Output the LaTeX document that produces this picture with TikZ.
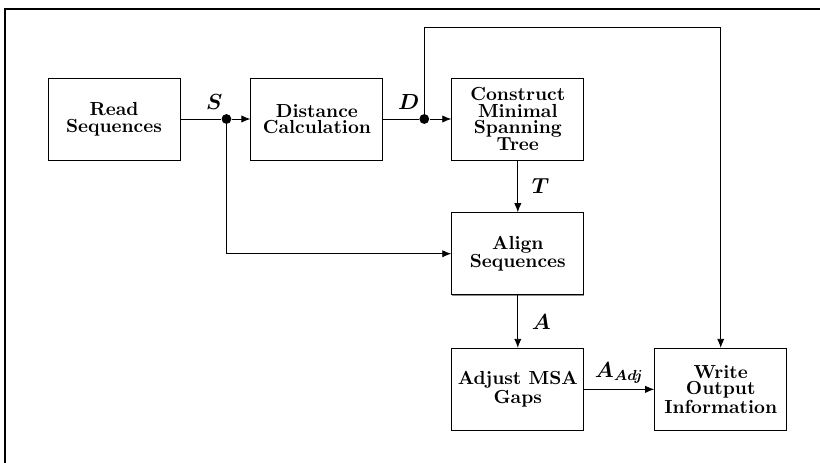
\documentclass[tikz,border=0pt]{standalone}
\usepackage{amsmath}
\usepackage{amssymb}
\usepackage{bm}
\usepackage{tikz}
\usetikzlibrary{positioning,arrows.meta,calc,shadows}

\begin{document}
\begin{tikzpicture}[
  font=\bfseries,
  node distance=28.5pt and 38.5pt,
  blk/.style={draw,line width=0.5pt,align=center,fill=white,
    minimum width=72.6pt,minimum height=45.1pt,inner sep=2pt,
    font=\bfseries\fontsize{10.4}{9.2}\selectfont,
    drop shadow={shadow xshift=0.2pt,shadow yshift=-0.6pt,fill=black!45,opacity=1}},
  arr/.style={line width=0.5pt,-{Latex[length=5pt,width=4pt]}},
  wire/.style={line width=0.5pt},
  lbl/.style={inner sep=1pt,font=\large},
  dot/.style={circle,fill=black,inner sep=0pt,minimum size=5.4pt},
]
  % fixed page size
  \useasboundingbox (-62.7pt,-189.2pt) rectangle (388.3pt,65.45pt);
  \draw[line width=0.6pt] (-59.95pt,-189.2pt) -- (-59.95pt,60.5pt) -- (388.3pt,60.5pt);

  \node[blk] (read) at (0,0) {Read\\Sequences};
  \node[blk,right=of read] (dist) {Distance\\Calculation};
  \node[blk,right=37.4pt of dist] (mst) {Construct\\Minimal\\Spanning\\Tree};
  \node[blk,below=of mst] (align) {Align\\Sequences};
  \node[blk,below=29pt of align] (adjust) {Adjust MSA\\Gaps};
  \node[blk,right=of adjust] (write) {Write\\Output\\Information};

  % junctions
  \node[dot,right=25.3pt of read.east,anchor=center] (sj) {};
  \node[dot,right=22.5pt of dist.east,anchor=center] (dj) {};
  \node[lbl,above left=2pt and -1pt of sj] {$\bm{S}$};
  \node[lbl,above left=2pt and -0.5pt of dj] {$\bm{D}$};

  \draw[wire] (read) -- (sj);
  \draw[arr] (sj) -- (dist);
  \draw[wire] (dist) -- (dj);
  \draw[arr] (dj) -- (mst);
  \draw[arr] (dj.center) -- ++(0,50.6pt) -| (write.north);
  \draw[arr] (sj.center) |- (align.west);
  \draw[arr] (mst) -- node[lbl,right=6.5pt]{$\bm{T}$} (align);
  \draw[arr] (align) -- node[lbl,right=6.5pt]{$\bm{A}$} (adjust);
  \draw[arr] (adjust) -- node[lbl,above=2pt]{$\bm{A_{Adj}}$} (write);
\end{tikzpicture}
\end{document}
